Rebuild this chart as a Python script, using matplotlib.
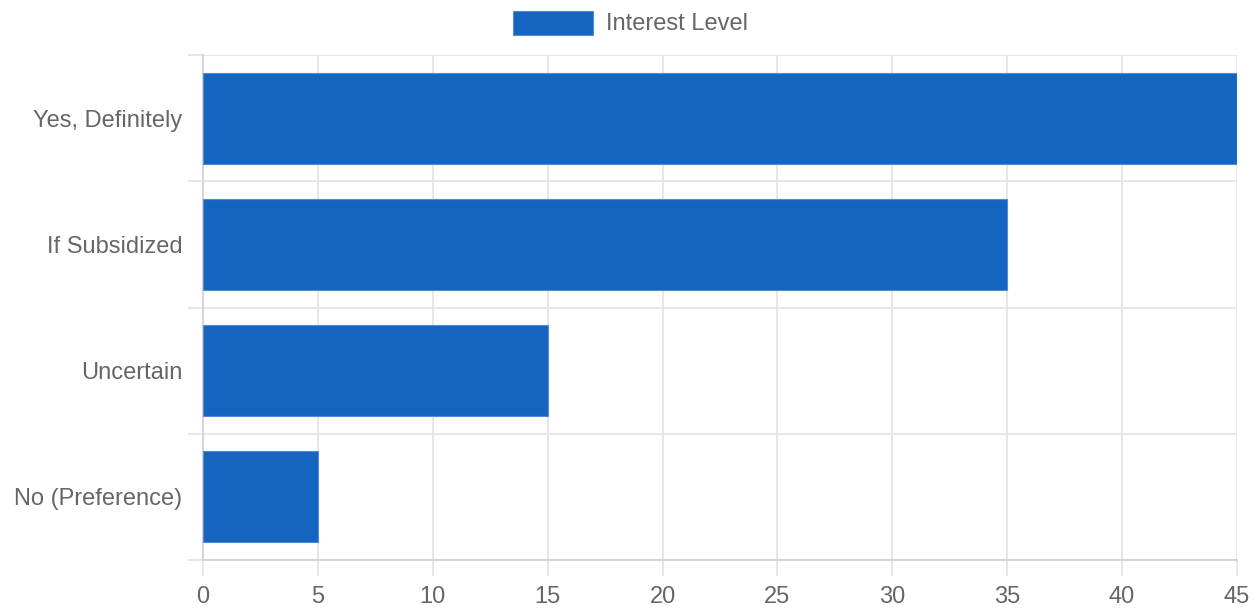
import matplotlib.pyplot as plt
from matplotlib.patches import Rectangle
import numpy as np

plt.rcParams['font.family'] = ['Liberation Sans', 'DejaVu Sans']

categories = ['Yes, Definitely', 'If Subsidized', 'Uncertain', 'No (Preference)']
interest = [45, 35, 15, 5]
x_ticks = [0, 5, 10, 15, 20, 25, 30, 35, 40, 45]
series_name = 'Interest Level'

bar_color = '#1565C0'
edge_color = '#4F8AD6'
grid_color = '#E3E3E3'
axis_color = '#CFCFCF'
text_color = '#666666'
font_size = 17

fig = plt.figure(figsize=(12.6, 6.1), dpi=100)
ax = fig.add_axes([203 / 1260, 50 / 610, 1034 / 1260, 505 / 610])

y = np.arange(len(categories))
# bar thickness = 0.9 * 0.8 of each category band
ax.barh(y, interest, height=0.72, color=bar_color, edgecolor=edge_color,
        linewidth=0.8, zorder=3)

ax.set_xlim(0, 45)
ax.set_ylim(len(categories) - 0.5, -0.5)

ax.set_xticks(x_ticks)
ax.set_xticklabels([str(t) for t in x_ticks])
ax.set_yticks(y)
ax.set_yticklabels(categories)

# category separators drawn as minor ticks + grid
ax.set_yticks(np.arange(-0.5, len(categories), 1.0), minor=True)
ax.grid(axis='y', which='minor', color=grid_color, linewidth=1.2, zorder=0)
ax.grid(axis='x', which='major', color=grid_color, linewidth=1.2, zorder=0)

ax.tick_params(axis='y', which='major', length=0, pad=15,
               labelsize=font_size, labelcolor=text_color)
ax.tick_params(axis='y', which='minor', length=11, width=1.2, color=grid_color)
ax.tick_params(axis='x', which='major', length=11.5, width=1.2, color=grid_color,
               pad=7, labelsize=font_size, labelcolor=text_color)

for side in ['top', 'right']:
    ax.spines[side].set_visible(False)
for side in ['left', 'bottom']:
    ax.spines[side].set_color(axis_color)
    ax.spines[side].set_linewidth(1.2)

# legend above the plot
fig.add_artist(Rectangle((513 / 1260, (610 - 35) / 610), 80 / 1260, 24 / 610,
                         transform=fig.transFigure, facecolor=bar_color,
                         edgecolor=edge_color, linewidth=0.8))
fig.text(606 / 1260, (610 - 24) / 610, series_name, fontsize=font_size,
         color=text_color, va='center', ha='left')

fig.savefig('out.png', dpi=100)
